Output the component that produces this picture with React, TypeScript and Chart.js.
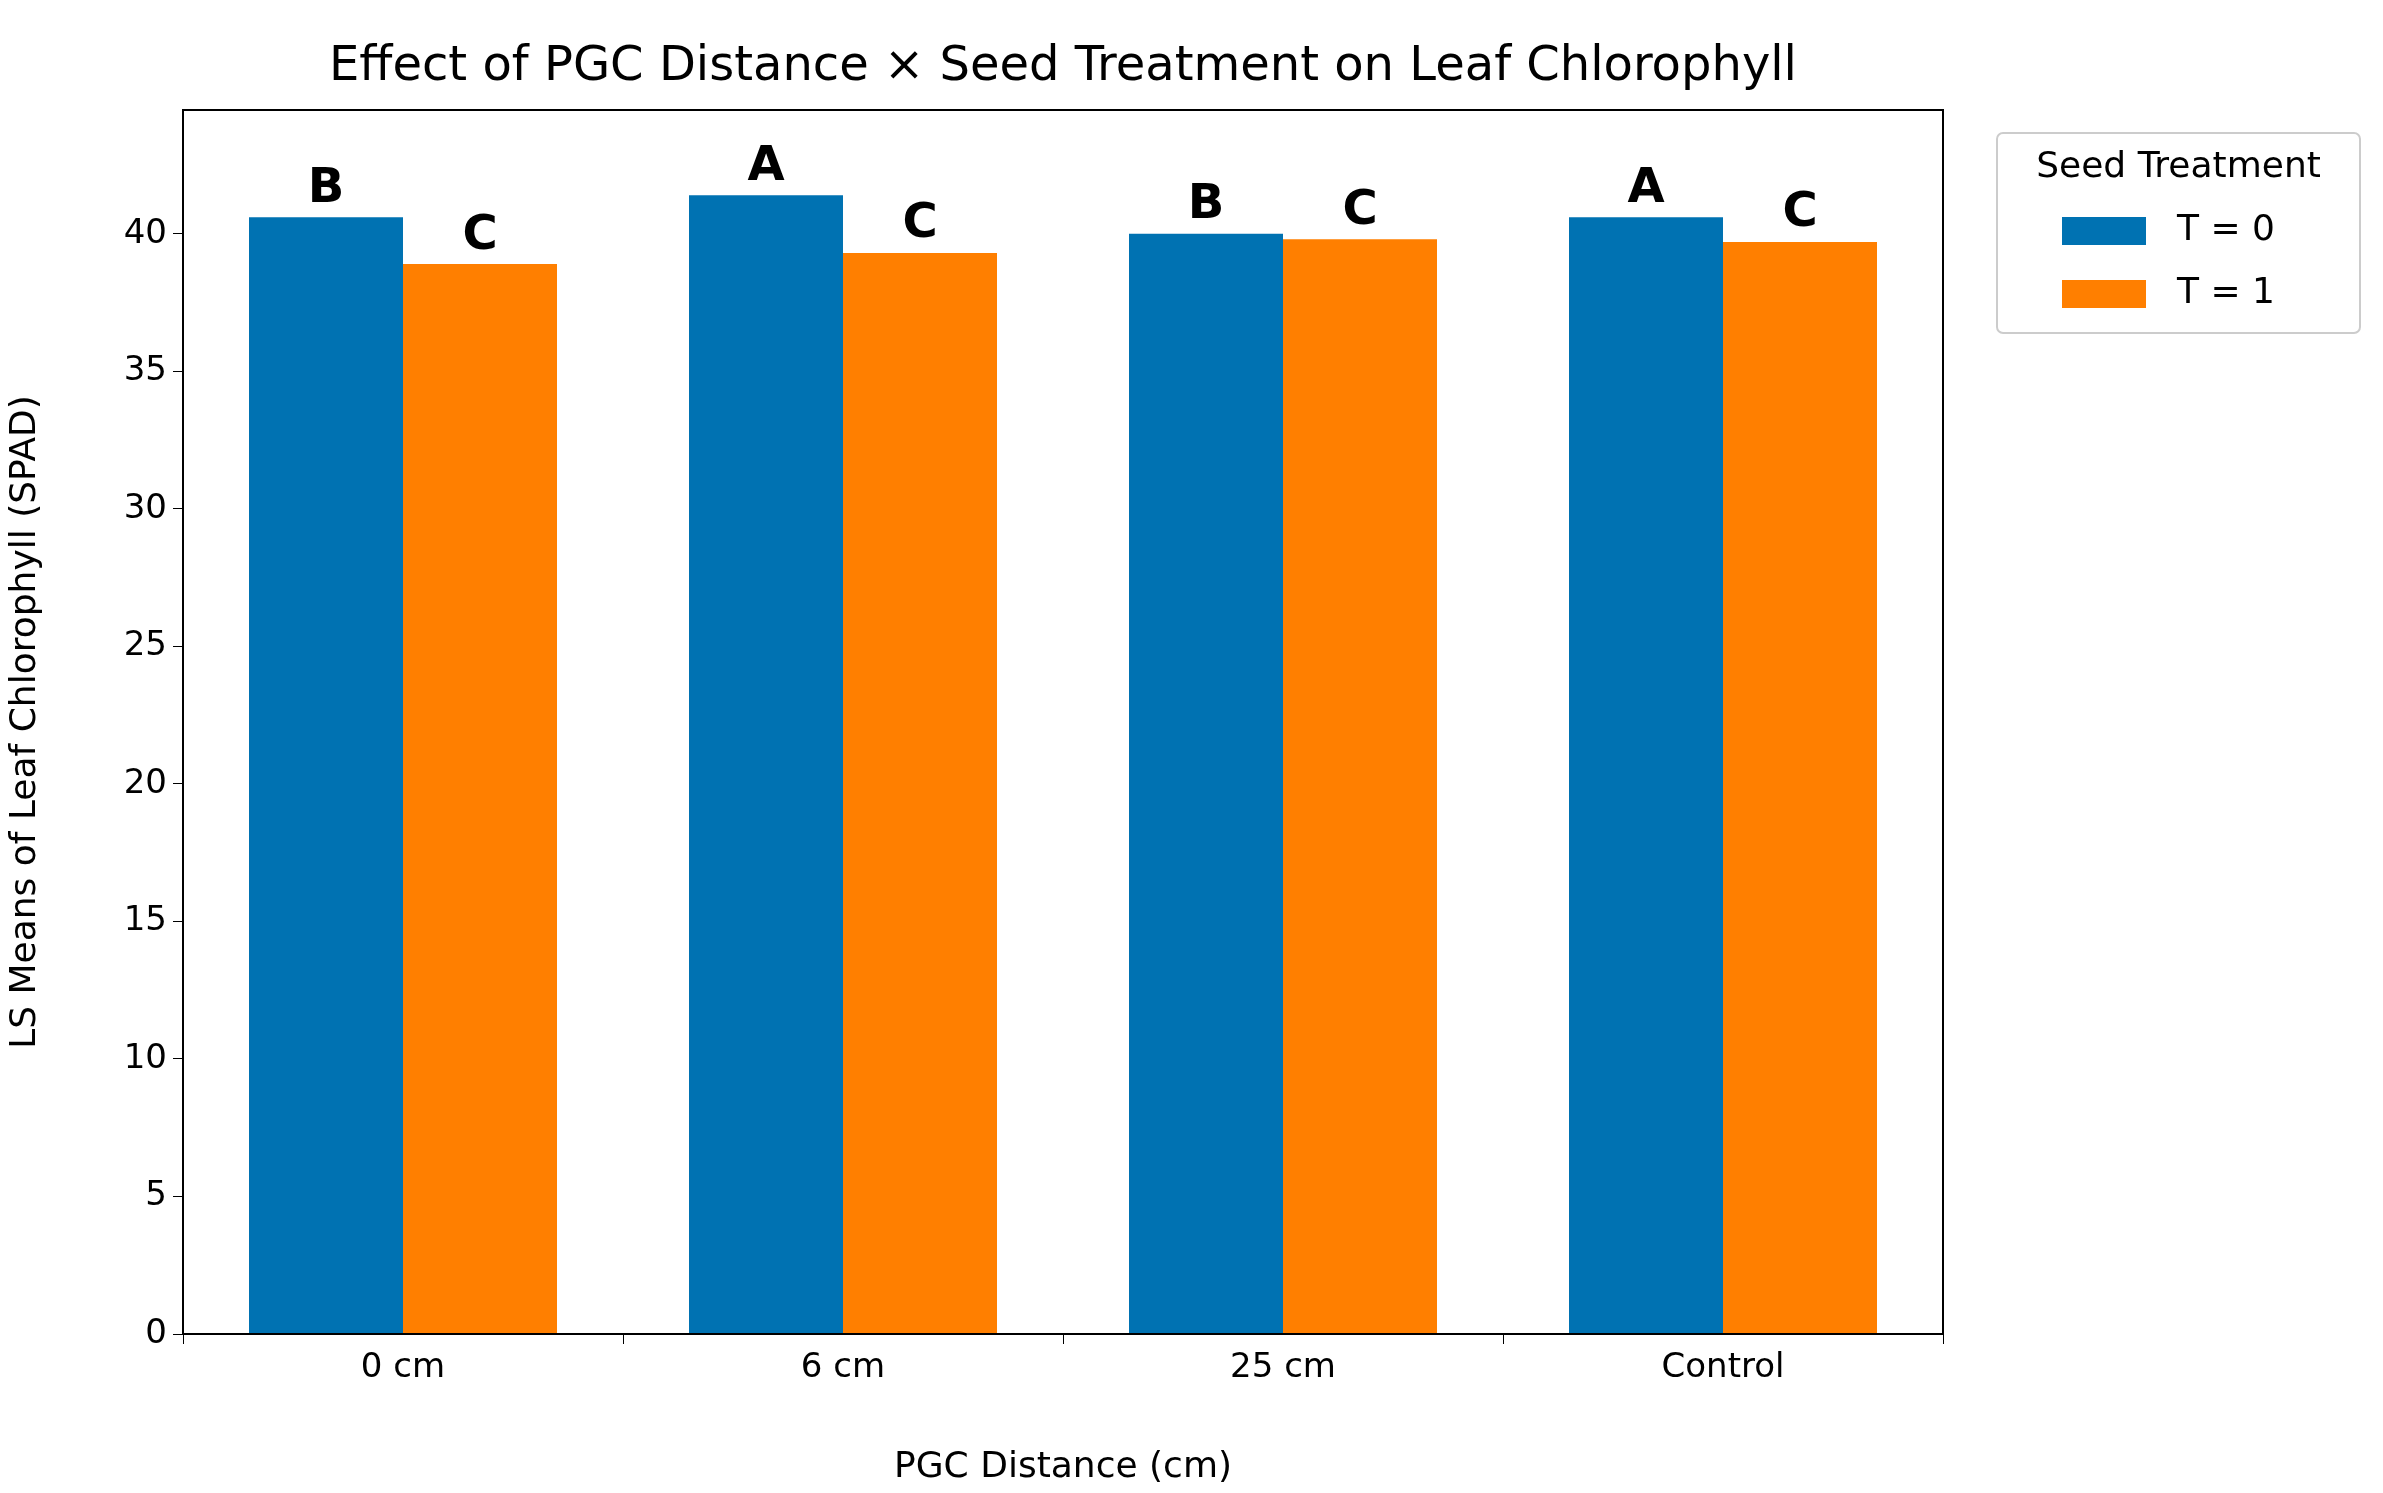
import React, { useEffect, useRef } from "react";
import { Chart, registerables } from "chart.js";
Chart.register(...registerables);

const categories = ["0 cm", "6 cm", "25 cm", "Control"];
const t0Values = [40.6, 41.4, 40.0, 40.6];
const t1Values = [38.9, 39.3, 39.8, 39.7];
const t0Letters = ["B", "A", "B", "A"];
const t1Letters = ["C", "C", "C", "C"];
const seriesLabels = ["T = 0", "T = 1"];
const colors = ["#0072B2", "#FF7F00"];
const FONT = "'DejaVu Sans', sans-serif";

export default function App() {
  const ref = useRef<HTMLCanvasElement>(null);
  useEffect(() => {
    document.body.style.margin = "0";
    const overlay = {
      id: "overlay",
      afterDraw(chart: any) {
        const ctx = chart.ctx;
        const a = chart.chartArea;
        ctx.save();
        ctx.strokeStyle = "#000";
        ctx.lineWidth = 2;
        ctx.strokeRect(a.left, a.top, a.right - a.left, a.bottom - a.top);
        ctx.fillStyle = "#000";
        ctx.textAlign = "center";
        ctx.textBaseline = "middle";
        ctx.font = `48px ${FONT}`;
        ctx.fillText("Effect of PGC Distance × Seed Treatment on Leaf Chlorophyll", (a.left + a.right) / 2, 68);
        ctx.font = `bold 48px ${FONT}`;
        ctx.textBaseline = "bottom";
        [t0Letters, t1Letters].forEach((letters, di) => {
          const meta = chart.getDatasetMeta(di);
          meta.data.forEach((bar: any, i: number) => {
            ctx.fillText(letters[i], bar.x, bar.y - 4);
          });
        });
        // legend
        const lx = 1997, ly = 133, lw = 363, lh = 200;
        ctx.strokeStyle = "#ccc";
        ctx.lineWidth = 2;
        ctx.beginPath();
        ctx.roundRect(lx, ly, lw, lh, 6);
        ctx.fillStyle = "rgba(255,255,255,0.9)";
        ctx.fill();
        ctx.stroke();
        ctx.fillStyle = "#000";
        ctx.textBaseline = "middle";
        ctx.font = `36px ${FONT}`;
        ctx.fillText("Seed Treatment", lx + lw / 2, 168);
        ctx.textAlign = "left";
        seriesLabels.forEach((s, i) => {
          const y = 231 + i * 63;
          ctx.fillStyle = colors[i];
          ctx.fillRect(2062, y - 14, 84, 28);
          ctx.fillStyle = "#000";
          ctx.fillText(s, 2177, y);
        });
        ctx.restore();
      },
    };
    const chart = new Chart(ref.current!, {
      type: "bar",
      data: {
        labels: categories,
        datasets: [
          { label: seriesLabels[0], data: t0Values, backgroundColor: colors[0] },
          { label: seriesLabels[1], data: t1Values, backgroundColor: colors[1] },
        ],
      },
      options: {
        animation: false,
        responsive: false,
        layout: { padding: { left: 0, right: 440, top: 110, bottom: 0 } },
        datasets: { bar: { categoryPercentage: 0.7, barPercentage: 1.0 } },
        plugins: { legend: { display: false }, tooltip: { enabled: false } },
        scales: {
          x: {
            afterFit: (s: any) => { s.height = 159; },
            grid: { display: true, drawOnChartArea: false, tickLength: 10, color: "#000" },
            border: { color: "#000", width: 2 },
            ticks: { color: "#000", font: { family: FONT, size: 34 }, padding: 4 },
            title: { display: true, text: "PGC Distance (cm)", color: "#000", font: { family: FONT, size: 36 }, padding: { top: 8 } },
          },
          y: {
            min: 0, max: 44.5,
            afterFit: (s: any) => { s.width = 183; },
            afterBuildTicks: (s: any) => { s.ticks = [0,5,10,15,20,25,30,35,40].map(v => ({ value: v })); },
            grid: { display: true, drawOnChartArea: false, tickLength: 10, color: "#000" },
            border: { color: "#000", width: 2 },
            ticks: { color: "#000", font: { family: FONT, size: 34 }, padding: 6 },
            title: { display: true, text: "LS Means of Leaf Chlorophyll (SPAD)", color: "#000", font: { family: FONT, size: 36 } },
          },
        },
      },
      plugins: [overlay],
    });
    return () => chart.destroy();
  }, []);
  return <canvas ref={ref} width={2383} height={1493} style={{ display: "block" }} />;
}
